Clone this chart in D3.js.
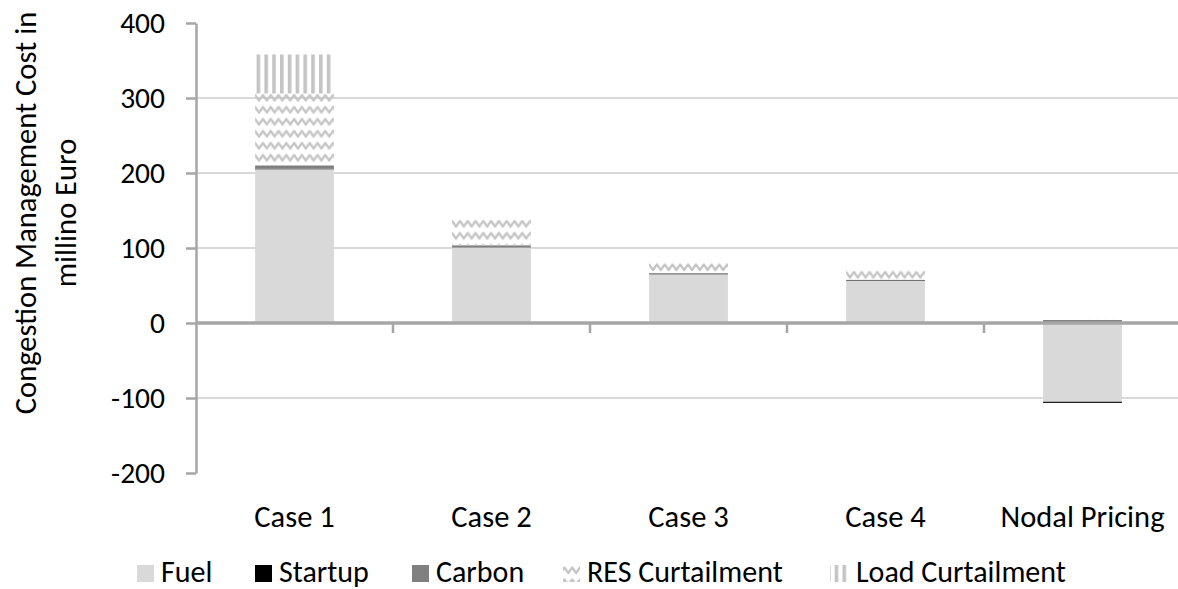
<!DOCTYPE html>
<html>
<head>
<meta charset="utf-8">
<script src="https://cdn.jsdelivr.net/npm/d3@7"></script>
<style>
  body { margin: 0; background: #fff; }
  svg { display: block; }
  text { font-family: Carlito, Lato, "Liberation Sans", sans-serif; fill: #000; }
</style>
</head>
<body>
<svg id="chart" width="1178" height="589"></svg>
<script>
// Congestion management cost by case, million Euro
const categories = ["Case 1", "Case 2", "Case 3", "Case 4", "Nodal Pricing"];
const fuel = [205, 101, 65, 56, -105];
const startup = [0.5, 1, 0.8, 0.8, -1.5];
const carbon = [4.5, 1.5, 0.7, 0.7, 4];
const resCurtailment = [96, 34.5, 13.5, 12.5, 0.6];
const loadCurtailment = [52, 0, 0, 0, 0];
const seriesNames = ["Fuel", "Startup", "Carbon", "RES Curtailment", "Load Curtailment"];
const yTicks = [-200, -100, 0, 100, 200, 300, 400];
const yGrid = [-100, 100, 200, 300];

const seriesValues = [fuel, startup, carbon, resCurtailment, loadCurtailment];
const table = categories.map((c, i) => {
  const row = { category: c };
  seriesNames.forEach((s, k) => { row[s] = seriesValues[k][i]; });
  return row;
});

const svg = d3.select("#chart");

const x = d3.scaleBand().domain(categories).range([196, 1181])
  .paddingInner(0.6).paddingOuter(0.3);
const y = d3.scaleLinear().domain([-200, 400]).range([473, 23]);

// fill patterns, anchored at the top-left corner of the shape they fill
const defs = svg.append("defs");
function wavePattern(id, ox, oy) {
  const p = defs.append("pattern").attr("id", id)
    .attr("patternUnits", "userSpaceOnUse").attr("width", 15.6).attr("height", 12)
    .attr("patternTransform", `translate(${ox},${oy - 2})`);
  p.append("path")
    .attr("d", "M-3.9,9 L0,3.5 L3.9,9 L7.8,3.5 L11.7,9 L15.6,3.5 L19.5,9")
    .attr("fill", "none").attr("stroke", "#c4c4c4").attr("stroke-width", 2.2)
    .attr("stroke-linejoin", "round");
  return `url(#${id})`;
}
function stripePattern(id, ox, oy) {
  const p = defs.append("pattern").attr("id", id)
    .attr("patternUnits", "userSpaceOnUse").attr("width", 7.8).attr("height", 8)
    .attr("patternTransform", `translate(${ox + 1.5},${oy})`);
  p.append("rect").attr("x", 0).attr("y", 0).attr("width", 3.6).attr("height", 8)
    .attr("fill", "#c4c4c4");
  return `url(#${id})`;
}

const solidFills = { "Fuel": "#d9d9d9", "Startup": "#000000", "Carbon": "#808080" };
let patternCount = 0;
function fillFor(key, ox, oy) {
  if (key === "RES Curtailment") return wavePattern(`wave${patternCount++}`, ox, oy);
  if (key === "Load Curtailment") return stripePattern(`stripes${patternCount++}`, ox, oy);
  return solidFills[key];
}

// gridlines
svg.append("g").selectAll("line").data(yGrid).join("line")
  .attr("x1", 196).attr("x2", 1181)
  .attr("y1", d => y(d)).attr("y2", d => y(d))
  .attr("stroke", "#d9d9d9").attr("stroke-width", 2);

// stacked bars, positives up and negatives down
const stack = d3.stack().keys(seriesNames).offset(d3.stackOffsetDiverging);
const layers = stack(table);
layers.forEach(layer => {
  layer.forEach(d => {
    const top = y(Math.max(d[0], d[1]));
    const h = Math.abs(y(d[0]) - y(d[1]));
    if (h <= 0) return;
    const bx = x(d.data.category);
    svg.append("rect")
      .attr("x", bx).attr("width", x.bandwidth())
      .attr("y", top).attr("height", h)
      .attr("fill", fillFor(layer.key, bx, top));
  });
});

// y axis
const yAxis = svg.append("g").attr("transform", "translate(196,0)")
  .call(d3.axisLeft(y).tickValues(yTicks).tickFormat(d => String(d))
    .tickSize(10).tickPadding(21).tickSizeOuter(0));
yAxis.select(".domain").attr("stroke", "#a6a6a6").attr("stroke-width", 2.5);
yAxis.selectAll(".tick line").attr("stroke", "#a6a6a6").attr("stroke-width", 2.5);
yAxis.selectAll(".tick text").attr("font-size", 29.5).attr("fill", "#000")
  .attr("font-family", "Carlito, Lato, sans-serif");

// zero line with category boundary ticks
const step = x.step();
const boundaries = d3.range(1, categories.length + 1)
  .map(i => x(categories[0]) - step * x.paddingOuter() + i * step);
svg.append("line").attr("x1", 196).attr("x2", 1181)
  .attr("y1", y(0)).attr("y2", y(0))
  .attr("stroke", "#a6a6a6").attr("stroke-width", 3.5);
svg.append("g").selectAll("line").data(boundaries).join("line")
  .attr("x1", d => d).attr("x2", d => d)
  .attr("y1", y(0)).attr("y2", y(0) + 10)
  .attr("stroke", "#a6a6a6").attr("stroke-width", 2.5);

// category labels
svg.append("g").selectAll("text").data(categories).join("text")
  .attr("x", d => x(d) + x.bandwidth() / 2)
  .attr("y", 527)
  .attr("text-anchor", "middle")
  .attr("font-size", 30.5)
  .text(d => d);

// y axis title
const title = svg.append("text")
  .attr("transform", "translate(36,213) rotate(-90)")
  .attr("text-anchor", "middle").attr("font-size", 30.5);
title.append("tspan").attr("x", 0).attr("y", 0).text("Congestion Management Cost in");
title.append("tspan").attr("x", 0).attr("y", 40).text("millino Euro");

// legend
const legendX = [137, 255, 412, 563, 830];
const legendY = 565;
const legend = svg.append("g").selectAll("g").data(seriesNames).join("g")
  .attr("transform", (d, i) => `translate(${legendX[i]},${legendY})`);
legend.append("rect")
  .attr("width", 17).attr("height", 17)
  .attr("fill", (d, i) => fillFor(d, legendX[i], legendY));
legend.append("text")
  .attr("x", (d, i) => i === 4 ? 26 : 24).attr("y", 17)
  .attr("font-size", 30)
  .text(d => d);
</script>
</body>
</html>
